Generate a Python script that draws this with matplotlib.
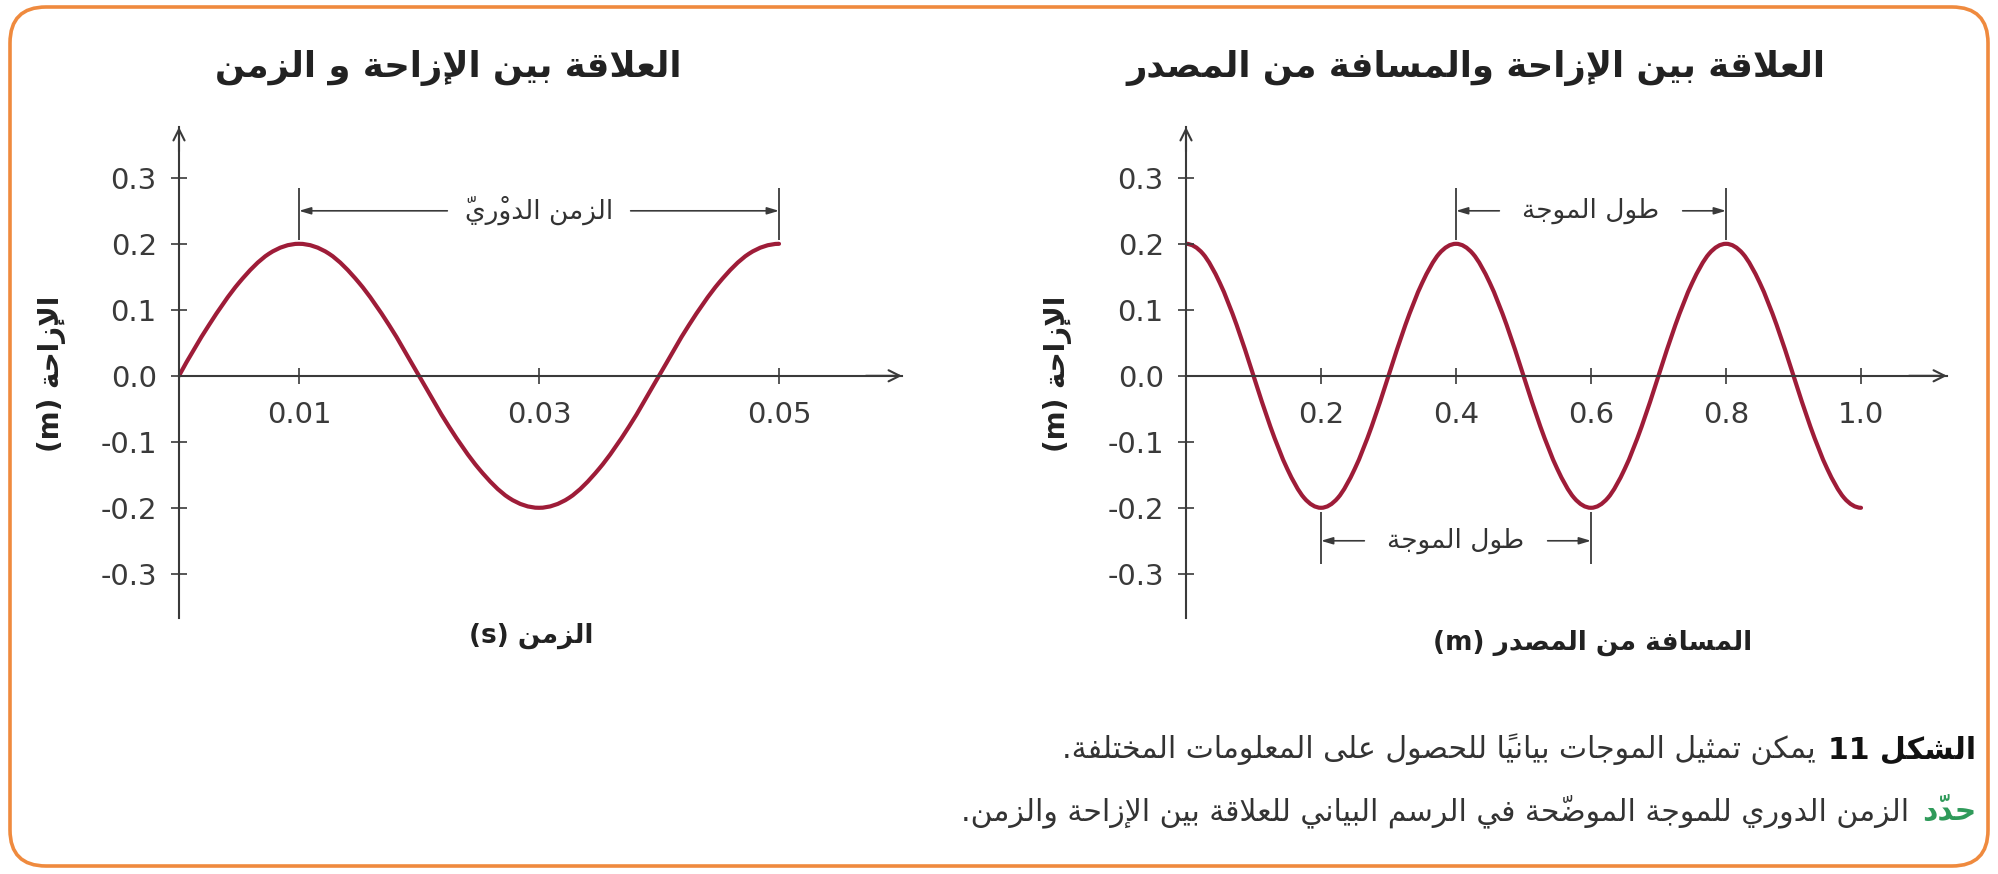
#two displacement graphs of a wave (Arabic textbook figure)

#import libraries
import numpy as np
import matplotlib
matplotlib.use("Agg")
import matplotlib.pyplot as plt
from matplotlib.path import Path
from matplotlib.patches import PathPatch, FancyBboxPatch

#data (displacement every 1/16 of a cycle)
time_s = [0.0, 0.0025, 0.005, 0.0075, 0.01, 0.0125, 0.015, 0.0175, 0.02, 0.0225, 0.025,
          0.0275, 0.03, 0.0325, 0.035, 0.0375, 0.04, 0.0425, 0.045, 0.0475, 0.05]
disp_time = [0.0, 0.077, 0.141, 0.185, 0.2, 0.185, 0.141, 0.077, 0.0, -0.077, -0.141,
             -0.185, -0.2, -0.185, -0.141, -0.077, 0.0, 0.077, 0.141, 0.185, 0.2]

dist_m = [0.0, 0.025, 0.05, 0.075, 0.1, 0.125, 0.15, 0.175, 0.2, 0.225, 0.25,
          0.275, 0.3, 0.325, 0.35, 0.375, 0.4, 0.425, 0.45, 0.475, 0.5,
          0.525, 0.55, 0.575, 0.6, 0.625, 0.65, 0.675, 0.7, 0.725, 0.75,
          0.775, 0.8, 0.825, 0.85, 0.875, 0.9, 0.925, 0.95, 0.975, 1.0]
disp_dist = [0.2, 0.185, 0.141, 0.077, 0.0, -0.077, -0.141, -0.185, -0.2, -0.185, -0.141,
             -0.077, 0.0, 0.077, 0.141, 0.185, 0.2, 0.185, 0.141, 0.077, 0.0,
             -0.077, -0.141, -0.185, -0.2, -0.185, -0.141, -0.077, 0.0, 0.077, 0.141,
             0.185, 0.2, 0.185, 0.141, 0.077, 0.0, -0.077, -0.141, -0.185, -0.2]

y_ticks = [-0.3, -0.2, -0.1, 0.0, 0.1, 0.2, 0.3]
y_tick_labels = ["-0.3", "-0.2", "-0.1", "0.0", "0.1", "0.2", "0.3"]
time_ticks = [0.01, 0.03, 0.05]
time_tick_labels = ["0.01", "0.03", "0.05"]
dist_ticks = [0.2, 0.4, 0.6, 0.8, 1.0]
dist_tick_labels = ["0.2", "0.4", "0.6", "0.8", "1.0"]

period_span = [0.01, 0.05]
wave_span_top = [0.4, 0.8]
wave_span_bottom = [0.2, 0.6]

#texts
title_time = "العلاقة بين الإزاحة و الزمن"
title_dist = "العلاقة بين الإزاحة والمسافة من المصدر"
ylabel_txt = "الإزاحة"
xlabel_time = "الزمن"
xlabel_dist = "المسافة من المصدر"
period_txt = "الزمن الدوْريّ"
wave_txt = "طول الموجة"
cap1_bold = "الشكل 11"
cap1_rest = "يمكن تمثيل الموجات بيانيًا للحصول على المعلومات المختلفة."
cap2_green = "حدّد"
cap2_rest = "الزمن الدوري للموجة الموضّحة في الرسم البياني للعلاقة بين الإزاحة والزمن."

#matplotlib has no arabic shaping, so pick presentation forms by hand
AR_FORMS = {
    'ء': (0xFE80, 1), 'آ': (0xFE81, 2), 'أ': (0xFE83, 2), 'ؤ': (0xFE85, 2),
    'إ': (0xFE87, 2), 'ئ': (0xFE89, 4), 'ا': (0xFE8D, 2), 'ب': (0xFE8F, 4),
    'ة': (0xFE93, 2), 'ت': (0xFE95, 4), 'ث': (0xFE99, 4), 'ج': (0xFE9D, 4),
    'ح': (0xFEA1, 4), 'خ': (0xFEA5, 4), 'د': (0xFEA9, 2), 'ذ': (0xFEAB, 2),
    'ر': (0xFEAD, 2), 'ز': (0xFEAF, 2), 'س': (0xFEB1, 4), 'ش': (0xFEB5, 4),
    'ص': (0xFEB9, 4), 'ض': (0xFEBD, 4), 'ط': (0xFEC1, 4), 'ظ': (0xFEC5, 4),
    'ع': (0xFEC9, 4), 'غ': (0xFECD, 4), 'ف': (0xFED1, 4), 'ق': (0xFED5, 4),
    'ك': (0xFED9, 4), 'ل': (0xFEDD, 4), 'م': (0xFEE1, 4), 'ن': (0xFEE5, 4),
    'ه': (0xFEE9, 4), 'و': (0xFEED, 2), 'ى': (0xFEEF, 2), 'ي': (0xFEF1, 4),
}
LAM_ALEF = {'آ': 0xFEF5, 'أ': 0xFEF7, 'إ': 0xFEF9, 'ا': 0xFEFB}


def nforms(c):
    if c.startswith('LA'):
        return 2
    return AR_FORMS.get(c, (0, 0))[1]


def shape(text):
    clusters = []
    for c in text:
        if (0x064B <= ord(c) <= 0x0652) and clusters:
            clusters[-1][1] += c
        else:
            clusters.append([c, ''])
    merged = []
    for c, m in clusters:
        if merged and merged[-1][0] == 'ل' and c in LAM_ALEF:
            merged[-1] = ['LA' + c, merged[-1][1] + m]
        else:
            merged.append([c, m])
    out = []
    for i, (c, m) in enumerate(merged):
        n = nforms(c)
        if n == 0:
            out.append(m + c)
            continue
        prev = merged[i - 1][0] if i > 0 else ''
        nxt = merged[i + 1][0] if i + 1 < len(merged) else ''
        join_prev = n > 1 and nforms(prev) == 4
        join_next = n == 4 and nforms(nxt) >= 2
        if c.startswith('LA'):
            g = chr(LAM_ALEF[c[2]] + (1 if join_prev else 0))
        elif n == 4:
            g = chr(AR_FORMS[c][0] + {(False, False): 0, (True, False): 1,
                                      (False, True): 2, (True, True): 3}[(join_prev, join_next)])
        else:
            g = chr(AR_FORMS[c][0] + (1 if join_prev else 0))
        #the font draws marks over the glyph that follows them
        out.append(m + g)
    return ''.join(reversed(out))


def smooth_path(xs, ys):
    p = np.column_stack([xs, ys]).astype(float)
    q = np.vstack([3 * p[0] - 3 * p[1] + p[2], p, 3 * p[-1] - 3 * p[-2] + p[-3]])
    verts = [p[0]]
    codes = [Path.MOVETO]
    for i in range(1, len(q) - 2):
        verts += [q[i] + (q[i + 1] - q[i - 1]) / 6, q[i + 1] - (q[i + 2] - q[i]) / 6, q[i + 1]]
        codes += [Path.CURVE4] * 3
    return Path(verts, codes)


plt.rcParams['font.family'] = ['DejaVu Sans']
W, H = 1998, 874
axis_col = "#3a3a3a"
curve_col = "#9e1c38"

fig = plt.figure(figsize=(W / 100, H / 100), dpi=100)
fig.patch.set_facecolor("white")

#background layer in pixel units for border and texts
bg = fig.add_axes([0, 0, 1, 1], zorder=-1)
bg.set_xlim(0, W)
bg.set_ylim(H, 0)
bg.axis("off")
bg.add_patch(FancyBboxPatch((10, 7), W - 20, H - 15,
                            boxstyle="round,pad=0,rounding_size=36",
                            facecolor="white", edgecolor="#ef8a3e", lw=2.6))


def make_axes(x0, x1, xmax):
    y_top, y_bot = 127, 618
    ax = fig.add_axes([x0 / W, 1 - y_bot / H, (x1 - x0) / W, (y_bot - y_top) / H])
    ax.set_facecolor("none")
    ax.set_xlim(0, xmax)
    ax.set_ylim(-0.367, 0.377)
    ax.spines[["top", "right"]].set_visible(False)
    ax.spines["bottom"].set_position(("data", 0))
    for s in ["left", "bottom"]:
        ax.spines[s].set_color(axis_col)
        ax.spines[s].set_linewidth(1.5)
    ax.set_yticks(y_ticks, y_tick_labels)
    ax.tick_params(axis="both", direction="inout", length=12, width=1.2,
                   colors=axis_col, labelsize=21, pad=10)
    ax.tick_params(axis="x", pad=12.5)
    arrow = dict(arrowstyle="->", color=axis_col, lw=1.5, shrinkA=0, shrinkB=0,
                 mutation_scale=20)
    ax.annotate("", xy=(1, 0), xycoords=("axes fraction", "data"),
                xytext=(0.95, 0), textcoords=("axes fraction", "data"), arrowprops=arrow)
    ax.annotate("", xy=(0, 1), xycoords="axes fraction",
                xytext=(0, 0.95), textcoords="axes fraction", arrowprops=arrow)
    return ax


def span_marker(ax, span, y, label, half_gap_pt):
    sign = 1 if y > 0 else -1
    ax.vlines(span, sign * 0.206, sign * 0.285, color=axis_col, lw=1.3)
    mid = (span[0] + span[1]) / 2
    for end in span:
        ax.annotate("", xy=(end, y), xytext=(mid, y),
                    arrowprops=dict(arrowstyle="-|>,head_length=0.5,head_width=0.15",
                                    color=axis_col, lw=1.2, shrinkA=half_gap_pt,
                                    shrinkB=0, mutation_scale=14))
    ax.text(mid, y, shape(label), ha="center", va="center", fontsize=19, color="#333333")


#left graph: displacement vs time
ax1 = make_axes(179, 902, 0.06025)
ax1.set_xticks(time_ticks, time_tick_labels)
ax1.add_patch(PathPatch(smooth_path(time_s, disp_time), fill=False,
                        edgecolor=curve_col, lw=3.0, capstyle="round", joinstyle="round"))
span_marker(ax1, period_span, 0.25, period_txt, 66)

#right graph: displacement vs distance
ax2 = make_axes(1186, 1947, 1.1274)
ax2.set_xticks(dist_ticks, dist_tick_labels)
ax2.add_patch(PathPatch(smooth_path(dist_m, disp_dist), fill=False,
                        edgecolor=curve_col, lw=3.0, capstyle="round", joinstyle="round"))
span_marker(ax2, wave_span_top, 0.25, wave_txt, 66)
span_marker(ax2, wave_span_bottom, -0.25, wave_txt, 66)

#titles and axis labels
bg.text(448, 68, shape(title_time), ha="center", va="center", fontsize=25.5,
        fontweight="bold", color="#222222")
bg.text(1476, 68, shape(title_dist), ha="center", va="center", fontsize=25.5,
        fontweight="bold", color="#222222")
for x in [52, 1058]:
    bg.text(x, 374, "(m) " + shape(ylabel_txt), ha="center", va="center",
            rotation=90, fontsize=20, fontweight="bold", color="#222222")
bg.text(531, 636, "(s) " + shape(xlabel_time), ha="center", va="center",
        fontsize=19, fontweight="bold", color="#222222")
bg.text(1593, 643, "(m) " + shape(xlabel_dist), ha="center", va="center",
        fontsize=19, fontweight="bold", color="#222222")

#caption
c1 = bg.text(1976, 758, shape(cap1_bold), ha="right", va="baseline", fontsize=21.5,
             fontweight="bold", color="#111111")
bg.annotate(shape(cap1_rest), xy=(0, 758), xycoords=(c1, bg.transData),
            xytext=(-9, 0), textcoords="offset points", ha="right", va="baseline",
            fontsize=21.5, color="#333333")
c2 = bg.text(1976, 820, shape(cap2_green), ha="right", va="baseline", fontsize=21.5,
             fontweight="bold", color="#2f9a5a")
bg.annotate(shape(cap2_rest), xy=(0, 820), xycoords=(c2, bg.transData),
            xytext=(-9, 0), textcoords="offset points", ha="right", va="baseline",
            fontsize=21.5, color="#333333")

plt.savefig("out.png", dpi=100)
